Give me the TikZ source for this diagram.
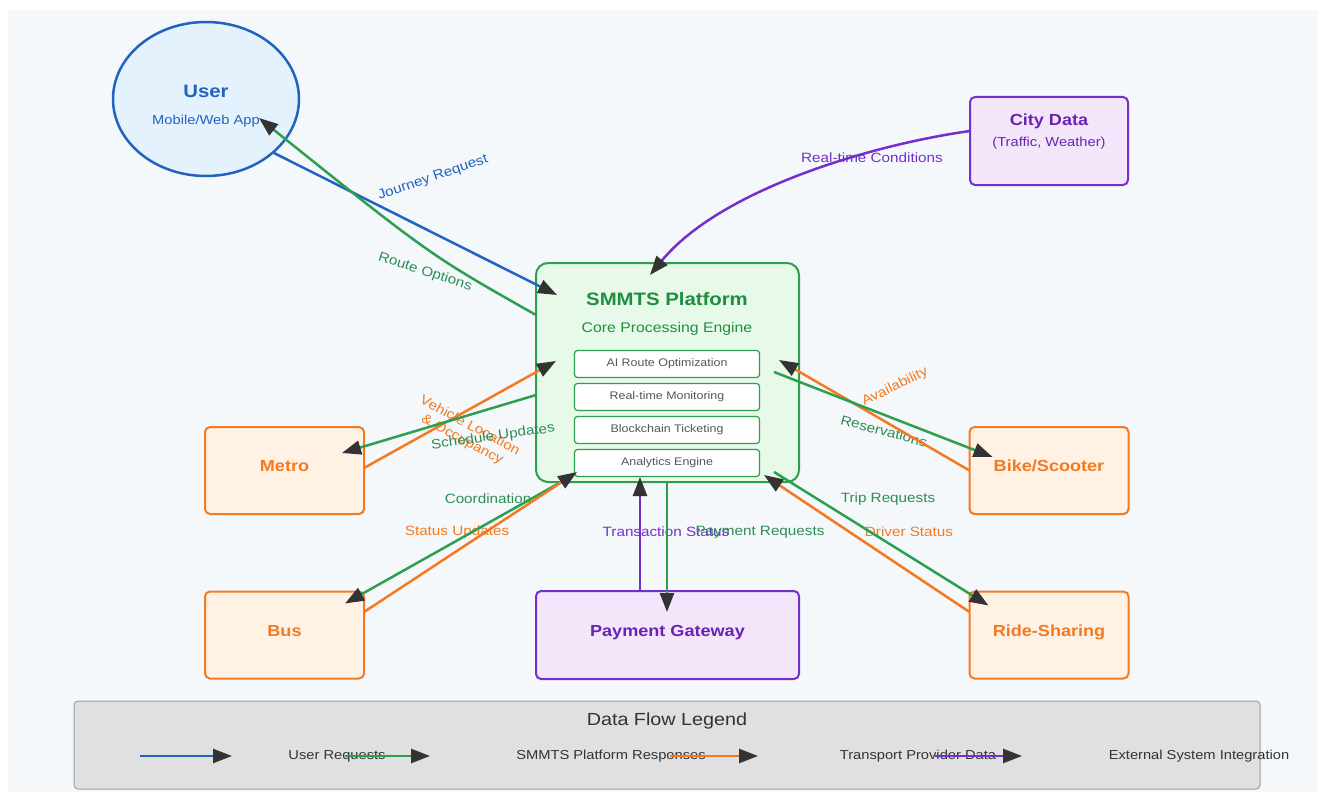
\documentclass[tikz,border=0pt]{standalone}
\usepackage{fontspec}
\setmainfont{Liberation Sans}[FakeStretch=1.13]
\usetikzlibrary{arrows.meta,shapes.geometric}

\definecolor{bgc}{HTML}{F5F8FB}
\definecolor{userblue}{HTML}{2263BE}
\definecolor{userfill}{HTML}{E3F2FD}
\definecolor{coregreen}{HTML}{2E9E50}
\definecolor{coretext}{HTML}{1E8F3E}
\definecolor{corefill}{HTML}{E7F9E9}
\definecolor{lblgreen}{HTML}{2F8C55}
\definecolor{provorange}{HTML}{F37A22}
\definecolor{provfill}{HTML}{FFF1E3}
\definecolor{extpurple}{HTML}{7430CC}
\definecolor{exttext}{HTML}{6A22B4}
\definecolor{extfill}{HTML}{F3E6FA}
\definecolor{modgray}{HTML}{555555}
\definecolor{tipc}{HTML}{333333}
\definecolor{legfill}{HTML}{E0E0E0}
\definecolor{legline}{HTML}{9E9E9E}

\tikzset{
  usernode/.style={ellipse, draw=userblue, fill=userfill, line width=2.5pt,
    minimum width=186pt, minimum height=154pt, inner sep=0pt, outer sep=0pt},
  corebox/.style={rectangle, rounded corners=12pt, draw=coregreen, fill=corefill,
    line width=2pt, minimum width=263pt, minimum height=219pt, outer sep=0pt},
  modbox/.style={rectangle, rounded corners=3pt, draw=coregreen, fill=white,
    line width=1.2pt, minimum width=185pt, minimum height=27pt, text=modgray,
    font=\fontsize{11}{13}\selectfont},
  provbox/.style={rectangle, rounded corners=5pt, draw=provorange, fill=provfill,
    line width=2pt, minimum width=159pt, minimum height=87pt, outer sep=0pt,
    text=provorange, font=\fontsize{16}{19}\selectfont\bfseries,
    text height=12pt, text depth=9.6pt},
  extbox/.style={rectangle, rounded corners=5pt, draw=extpurple, fill=extfill,
    line width=2pt, minimum height=88pt, outer sep=0pt, text=exttext,
    font=\fontsize{16}{19}\selectfont\bfseries, text height=12pt, text depth=9.6pt},
  lbl/.style={font=\fontsize{13.5}{16}\selectfont, inner sep=0pt},
  legtxt/.style={font=\fontsize{13}{15}\selectfont, text=tipc, inner sep=0pt},
  flow/.style={line width=2.5pt, -{Triangle[length=19pt,width=14pt,color=tipc]}},
}

\begin{document}
\begin{tikzpicture}[x=1pt,y=-1pt]
\fill[white] (0,0) rectangle (1318,792);
\fill[bgc] (8,10) rectangle (1318,792);

\node[usernode] (user) at (206,99) {};
\node[font=\fontsize{18}{21}\selectfont\bfseries, text=userblue] (userT) at (206,91) {User};
\node[font=\fontsize{13}{15}\selectfont, text=userblue] (userS) at (206,121) {Mobile/Web App};

\node[extbox, minimum width=158pt] (city) at (1049,141) {};
\node[font=\fontsize{16}{19}\selectfont\bfseries, text=exttext] (cityT) at (1049,121) {City Data};
\node[font=\fontsize{13}{15}\selectfont, text=exttext] (cityS) at (1049,143) {(Traffic, Weather)};

\node[corebox] (plat) at (667.5,372.5) {};
\node[font=\fontsize{18}{21}\selectfont\bfseries, text=coretext] (platT) at (667,299) {SMMTS Platform};
\node[font=\fontsize{14}{17}\selectfont, text=coretext] (platS) at (667,329) {Core Processing Engine};
\foreach \t [count=\i] in {AI Route Optimization, Real-time Monitoring, Blockchain Ticketing, Analytics Engine}
  \node[modbox] (mod\i) at (667,{364+33*(\i-1)}) {\t};

\node[provbox] (metro) at (284.5,470.5) {Metro};
\node[provbox] (bus) at (284.5,635) {Bus};
\node[provbox] (bike) at (1049,470.5) {Bike/Scooter};
\node[provbox] (ride) at (1049,635) {Ride-Sharing};
\node[extbox, minimum width=263pt] (pay) at (667.5,635) {Payment Gateway};

\node[lbl, text=userblue, rotate=19] (lJour) at (433,178) {Journey Request};
\node[lbl, text=lblgreen, rotate=-18] (lRoute) at (425,272) {Route Options};
\node[lbl, text=extpurple] (lCond) at (872,158) {Real-time Conditions};
\node[lbl, text=provorange, rotate=-28, align=center] (lVeh) at (466,433) {Vehicle Location\\\& Occupancy};
\node[lbl, text=lblgreen, rotate=8] (lSched) at (493,437) {Schedule Updates};
\node[lbl, text=lblgreen] (lCoord) at (488,499) {Coordination};
\node[lbl, text=provorange] (lStat) at (457,532) {Status Updates};
\node[lbl, text=extpurple] (lTrans) at (666,532) {Transaction Status};
\node[lbl, text=lblgreen] (lPay) at (760,532) {Payment Requests};
\node[lbl, text=provorange, rotate=26] (lAvail) at (895,387) {Availability};
\node[lbl, text=lblgreen, rotate=-15] (lRes) at (884,431) {Reservations};
\node[lbl, text=lblgreen] (lTrip) at (888,499) {Trip Requests};
\node[lbl, text=provorange] (lDrv) at (909,532) {Driver Status};

\draw[flow, userblue] ([xshift=68pt,yshift=-54pt]user.center) -- ([xshift=21pt,yshift=-32pt]plat.north west);
\draw[flow, coregreen] ([yshift=57.5pt]plat.west) .. controls (430,255) .. ([xshift=53pt,yshift=-19pt]user.center);
\draw[flow, extpurple] ([yshift=10pt]city.west) .. controls (870,145) and (720,190) .. ([xshift=114pt,yshift=-12pt]plat.north west);

\draw[flow, provorange] ([yshift=2.5pt]metro.east) -- ([xshift=20pt,yshift=-98pt]plat.north west);
\draw[flow, coregreen] ([yshift=-22.5pt]plat.west) -- ([xshift=-22pt,yshift=-26pt]metro.north east);
\draw[flow, coregreen] ([xshift=34pt,yshift=5pt]plat.south west) -- ([xshift=-19pt,yshift=-12pt]bus.north east);
\draw[flow, provorange] ([yshift=23pt]bus.east) -- ([xshift=41pt,yshift=10pt]plat.south west);

\draw[flow, extpurple] ([xshift=-27.5pt]pay.north) -- ([xshift=-27.5pt,yshift=5pt]plat.south);
\draw[flow, coregreen] ([xshift=-0.5pt]plat.south) -- ([xshift=-0.5pt,yshift=-21pt]pay.north);

\draw[flow, provorange] (bike.west) -- ([xshift=-20pt,yshift=-97pt]plat.north east);
\draw[flow, coregreen] ([xshift=-25pt,yshift=-109pt]plat.north east) -- ([xshift=23pt,yshift=-30pt]bike.north west);
\draw[flow, provorange] ([yshift=23pt]ride.west) -- ([xshift=-35pt,yshift=7pt]plat.south east);
\draw[flow, coregreen] ([xshift=-25pt,yshift=10pt]plat.south east) -- ([xshift=19pt,yshift=-14pt]ride.north west);

\node[rectangle, rounded corners=4pt, draw=legline, fill=legfill, line width=1pt,
  minimum width=1186pt, minimum height=88pt] (legend) at (667,745) {};
\node[font=\fontsize{17.5}{20}\selectfont, text=tipc] (legT) at (667,721) {Data Flow Legend};
\foreach \t/\x [count=\i] in {User Requests/337, SMMTS Platform Responses/611, Transport Provider Data/918, External System Integration/1199}
  \node[legtxt] (leg\i) at (\x,756) {\t};
\foreach \c/\xa/\xb in {userblue/140/232, coregreen/345/430, provorange/670/758, extpurple/935/1022}
  \draw[flow, \c] (\xa,756) -- (\xb,756);
\end{tikzpicture}
\end{document}
